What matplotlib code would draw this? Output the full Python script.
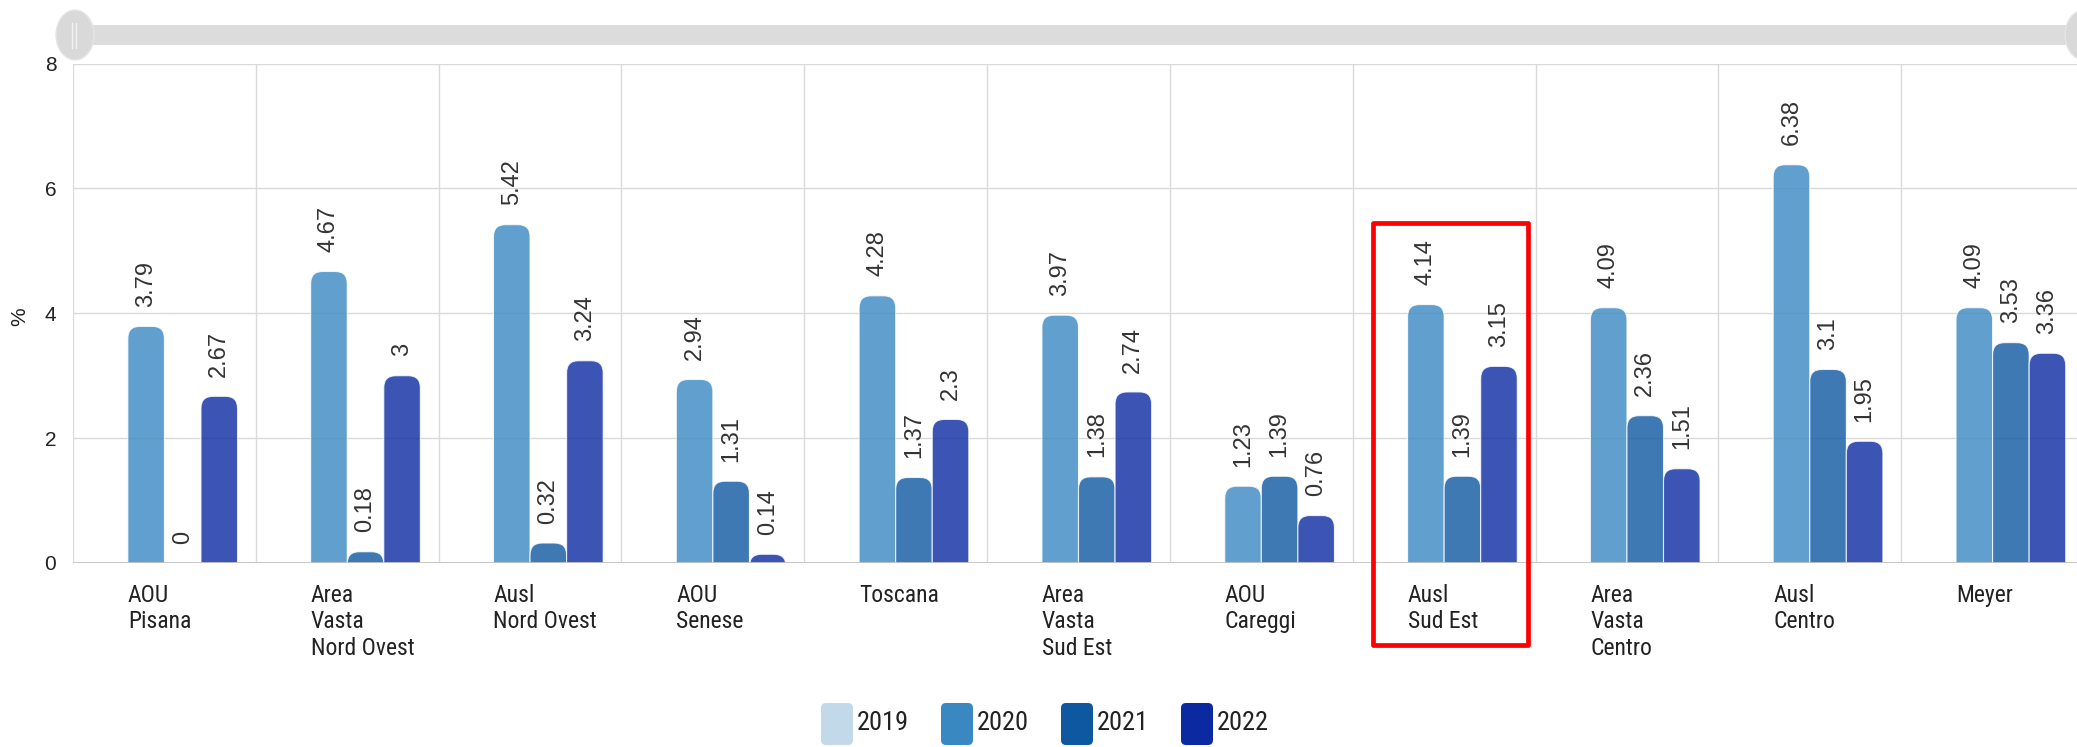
import matplotlib
matplotlib.use("Agg")
import numpy as np
import matplotlib.pyplot as plt
from matplotlib import font_manager
from matplotlib.font_manager import FontProperties
from matplotlib.patches import FancyBboxPatch, Rectangle, Ellipse
from matplotlib.lines import Line2D

# data
categories = ["AOU\nPisana", "Area\nVasta\nNord Ovest", "Ausl\nNord Ovest", "AOU\nSenese",
              "Toscana", "Area\nVasta\nSud Est", "AOU\nCareggi", "Ausl\nSud Est",
              "Area\nVasta\nCentro", "Ausl\nCentro", "Meyer"]
years = ["2019", "2020", "2021", "2022"]
v2019 = [None, None, None, None, None, None, None, None, None, None, None]
v2020 = [3.79, 4.67, 5.42, 2.94, 4.28, 3.97, 1.23, 4.14, 4.09, 6.38, 4.09]
v2021 = [0, 0.18, 0.32, 1.31, 1.37, 1.38, 1.39, 1.39, 2.36, 3.1, 3.53]
v2022 = [2.67, 3, 3.24, 0.14, 2.3, 2.74, 0.76, 3.15, 1.51, 1.95, 3.36]
highlight = "Ausl\nSud Est"

colors = ["#c2d9ea", "#3a88c2", "#0e58a2", "#0b2aa2"]

plt.rcParams["font.family"] = ["Liberation Sans", "DejaVu Sans"]


# the screenshot text is squeezed sideways: look for a condensed sans face
def find_condensed():
    prefer = ["Liberation Sans Narrow", "Roboto Condensed", "Noto Sans", "Open Sans",
              "DejaVu Sans", "Roboto", "Liberation Sans"]
    found = []
    for f in font_manager.fontManager.ttflist:
        st = str(f.stretch).lower()
        if f.name == "Liberation Sans Narrow" or "condensed" in st or "narrow" in st:
            if str(f.style) != "normal":
                continue
            if str(f.weight) not in ("400", "normal", "regular"):
                continue
            rank = prefer.index(f.name) if f.name in prefer else len(prefer)
            found.append((rank, "semi" in st, f.fname))
    if not found:
        return None
    found.sort()
    return FontProperties(fname=found[0][2])


cond = find_condensed()
if cond is None:
    cond = FontProperties(family="Liberation Sans")
    cat_size, leg_size = 15.5, 16.5
else:
    cat_size, leg_size = 17, 19

W, H = 2077, 747
fig = plt.figure(figsize=(W / 100, H / 100), dpi=100)
ax_l, ax_b, ax_w, ax_h = 73, 184, 2011, 499.4
ax = fig.add_axes([ax_l / W, ax_b / H, ax_w / W, ax_h / H])
n = len(categories)
ax.set_xlim(-0.5, n - 0.5)
ax.set_ylim(0, 8)

for s in ax.spines.values():
    s.set_visible(False)
ax.set_xticks([])
ax.set_xticks(np.arange(-0.5, n, 1), minor=True)
ax.set_yticks([0, 2, 4, 6, 8])
ax.tick_params(which="both", length=0)
ax.tick_params(axis="y", labelsize=15, pad=12, labelcolor="#222222")
ax.grid(which="minor", axis="x", color="#dadada", lw=1)
ax.grid(which="major", axis="y", color="#dadada", lw=1)
ax.set_axisbelow(True)
ax.axhline(0, color="#c4c4c4", lw=1.3, zorder=4)

# rounded bars
px_x = ax_w / n
px_y = ax_h / 8
rx = 12 / px_x
ry = 12 / px_y
width = 0.2
offsets = [-0.3, -0.1, 0.1, 0.3]
series = [v2019, v2020, v2021, v2022]
for j, vals in enumerate(series):
    for i, v in enumerate(vals):
        if v is None:
            continue
        x0 = i + offsets[j] - width / 2
        p = FancyBboxPatch((x0, -0.4), width, v + 0.4,
                           boxstyle=f"round,pad=0,rounding_size={rx}",
                           mutation_aspect=ry / rx, fc=colors[j], ec="white",
                           lw=0.8, alpha=0.8, zorder=3)
        ax.add_patch(p)
        ax.annotate(f"{v:g}", (i + offsets[j], v), xytext=(0, 14),
                    textcoords="offset points", rotation=90, ha="center",
                    va="bottom", fontsize=17, color="#333333")

for i, cat in enumerate(categories):
    ax.annotate(cat, (i - 0.2, 0), xytext=(0, -15), textcoords="offset points",
                ha="left", va="top", fontproperties=cond, fontsize=cat_size,
                color="#222222", linespacing=1.2, annotation_clip=False)

# red highlight box
k = categories.index(highlight)
ax.add_patch(Rectangle((k - 0.39, -1.31), 0.85, 6.76, fill=False, ec="#ff0000",
                       lw=3.4, clip_on=False, zorder=6, joinstyle="round"))

fig.text(20 / W, (H - 317) / H, "%", rotation=90, ha="center", va="center",
         fontsize=15, color="#222222")

# navigator scrollbar
tr = fig.dpi_scale_trans
fig.add_artist(Rectangle((0.9, (H - 45) / 100), 20.0, 0.20, transform=tr,
                         fc="#dcdcdc", ec="none"))
for cx in (75, 2084):
    fig.add_artist(Ellipse((cx / 100, (H - 35) / 100), 0.38, 0.50, transform=tr,
                           fc="#d9d9d9", ec="#e6e6e6", lw=1))
for lx in (72, 76):
    fig.add_artist(Line2D([lx / 100, lx / 100], [(H - 48) / 100, (H - 23) / 100],
                          transform=tr, color="#f2f2f2", lw=1))

# legend
for j, yr in enumerate(years):
    x0 = 821 + 120 * j
    fig.add_artist(FancyBboxPatch((x0 / 100, 0.02), 0.32, 0.42, transform=tr,
                                  boxstyle="round,pad=0,rounding_size=0.05",
                                  fc=colors[j], ec="none"))
    fig.text((x0 + 36) / W, 24 / H, yr, ha="left", va="center",
             fontproperties=cond, fontsize=leg_size, color="#222222")

fig.savefig("out.png", dpi=100)
